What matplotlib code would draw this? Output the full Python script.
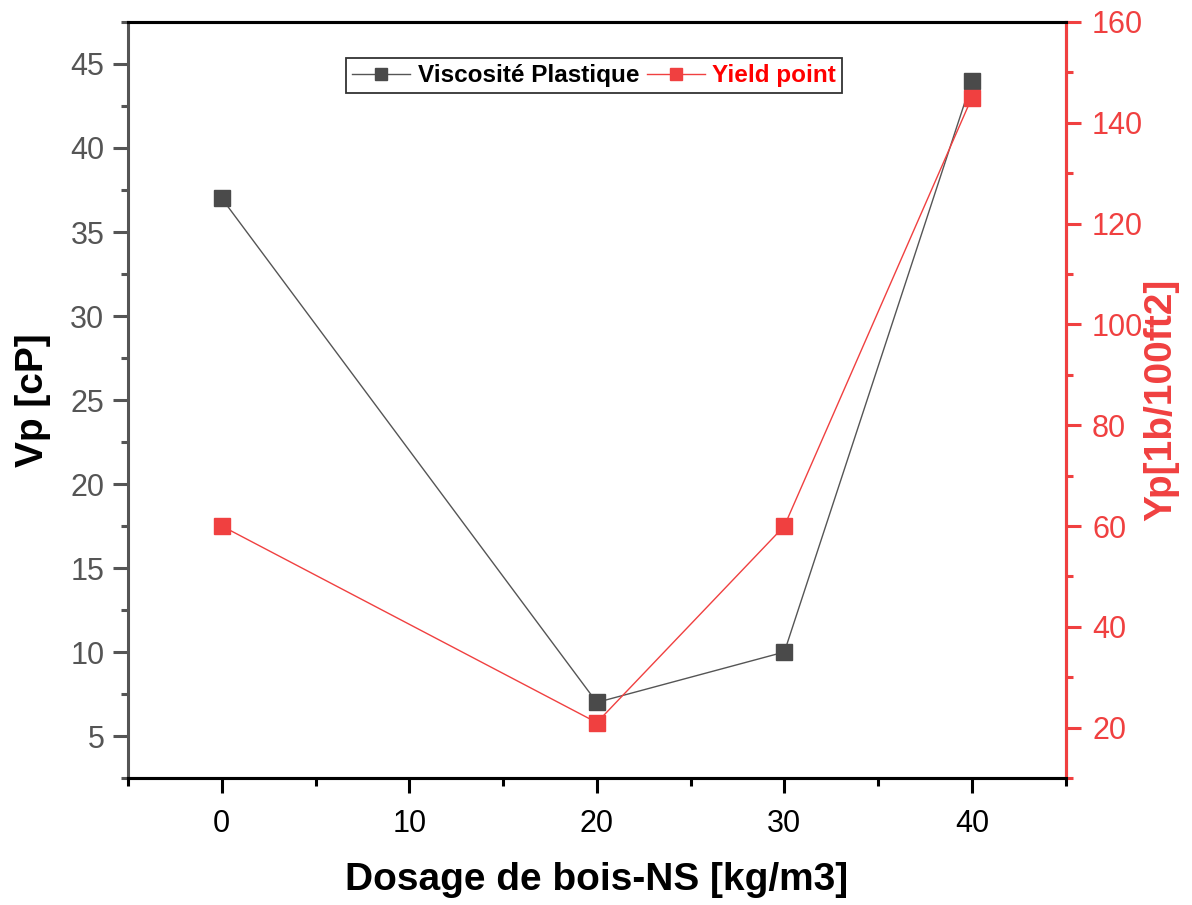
import matplotlib
matplotlib.use("Agg")
import matplotlib.pyplot as plt
from matplotlib.ticker import MultipleLocator

plt.rcParams["font.family"] = ["Liberation Sans", "DejaVu Sans"]

dosage = [0, 20, 30, 40]
viscosite = [37, 7, 10, 44]
yield_point = [60, 21, 60, 145]

gray = "#555555"
red = "#f04040"

fig = plt.figure(figsize=(11.92, 9.05), dpi=100)
ax = fig.add_axes([0.1074, 0.1403, 0.7866, 0.8354])
ax2 = ax.twinx()

l1, = ax.plot(dosage, viscosite, color=gray, lw=1, marker="s", ms=11,
              mfc="#4a4a4a", mec="#4a4a4a", label="Viscosité Plastique")
l2, = ax2.plot(dosage, yield_point, color=red, lw=1, marker="s", ms=11,
               mfc=red, mec=red, label="Yield point")

ax.set_xlim(-5, 45)
ax.set_ylim(2.5, 47.5)
ax2.set_ylim(10, 160)

ax.xaxis.set_major_locator(MultipleLocator(10))
ax.xaxis.set_minor_locator(MultipleLocator(5))
ax.yaxis.set_major_locator(MultipleLocator(5))
ax.yaxis.set_minor_locator(MultipleLocator(2.5))
ax2.yaxis.set_major_locator(MultipleLocator(20))
ax2.yaxis.set_minor_locator(MultipleLocator(10))

for a in (ax, ax2):
    for s in a.spines.values():
        s.set_linewidth(2.2)
ax.spines["left"].set_color(gray)
ax.spines["top"].set_color("black")
ax.spines["bottom"].set_color("black")
ax2.spines["right"].set_color(red)
ax2.spines["left"].set_visible(False)
ax2.spines["top"].set_color("black")

ax.tick_params(axis="x", which="major", direction="out", length=11, width=2.2,
               color="black", labelsize=22, pad=11, top=False)
ax.tick_params(axis="x", which="minor", direction="out", length=6, width=2.2,
               color="black", top=False)
ax.tick_params(axis="y", which="major", direction="out", length=11, width=2.2,
               color=gray, labelcolor=gray, labelsize=22, pad=6)
ax.tick_params(axis="y", which="minor", direction="out", length=5, width=2.2,
               color=gray)
ax2.tick_params(axis="y", which="major", direction="out", length=11, width=2.2,
                color=red, labelcolor=red, labelsize=22, pad=8)
ax2.tick_params(axis="y", which="minor", direction="out", length=5, width=2.2,
                color=red)

ax.set_xlabel("Dosage de bois-NS [kg/m3]", fontsize=28, fontweight="bold",
              labelpad=17)
ax.set_ylabel("Vp [cP]", fontsize=28, fontweight="bold", labelpad=14)
ax2.set_ylabel("Yp[1b/100ft2]", fontsize=28, fontweight="bold", color=red,
               labelpad=0)

leg = ax2.legend(handles=[l1, l2], loc="center", ncol=2,
                 bbox_to_anchor=(0.497, 0.929), fontsize=17.5, frameon=True,
                 fancybox=False, edgecolor="black", handlelength=2.4,
                 handletextpad=0.3, columnspacing=0.3, borderpad=0.25,
                 borderaxespad=0, markerscale=0.75)
leg.get_frame().set_linewidth(1.3)
for txt, c in zip(leg.get_texts(), ["black", "red"]):
    txt.set_color(c)
    txt.set_fontweight("bold")

fig.savefig("out.png", dpi=100)
